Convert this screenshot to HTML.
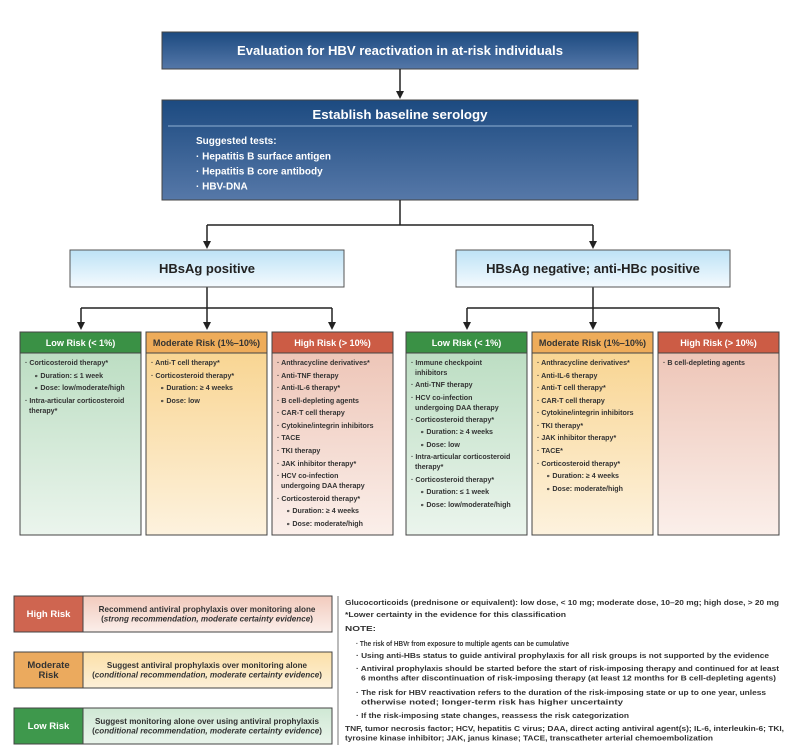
<!DOCTYPE html>
<html><head><meta charset="utf-8"><style>
html,body{margin:0;padding:0;background:#fff;}
svg{display:block;font-family:"Liberation Sans",Arial,sans-serif;}
.li{font-size:7.1px;font-weight:bold;fill:#333;}
.hd{font-size:9.1px;font-weight:bold;}
.nt{font-size:7.2px;font-weight:bold;fill:#333;}
.lg{font-size:8.1px;font-weight:bold;fill:#333;}
</style></head><body>
<svg width="793" height="752" viewBox="0 0 793 752" xmlns="http://www.w3.org/2000/svg">
<defs>
<linearGradient id="blue" x1="0" y1="0" x2="0" y2="1"><stop offset="0" stop-color="#1c4a80"/><stop offset="1" stop-color="#5477a8"/></linearGradient>
<linearGradient id="blue2" x1="0" y1="0" x2="0" y2="1"><stop offset="0" stop-color="#1c4a80"/><stop offset="1" stop-color="#5678a8"/></linearGradient>
<linearGradient id="lb" x1="0" y1="0" x2="0" y2="1"><stop offset="0" stop-color="#bde2f6"/><stop offset="1" stop-color="#f4fafe"/></linearGradient>
<linearGradient id="gG" x1="0" y1="0" x2="0" y2="1"><stop offset="0" stop-color="#b7dbbe"/><stop offset="1" stop-color="#ebf5ed"/></linearGradient>
<linearGradient id="gO" x1="0" y1="0" x2="0" y2="1"><stop offset="0" stop-color="#f8d28a"/><stop offset="1" stop-color="#fdf2de"/></linearGradient>
<linearGradient id="gR" x1="0" y1="0" x2="0" y2="1"><stop offset="0" stop-color="#ecc1b2"/><stop offset="1" stop-color="#fbefea"/></linearGradient>
<linearGradient id="lR" x1="0" y1="0" x2="0" y2="1"><stop offset="0" stop-color="#f2cabd"/><stop offset="1" stop-color="#fbeeea"/></linearGradient>
<linearGradient id="lO" x1="0" y1="0" x2="0" y2="1"><stop offset="0" stop-color="#fbe0a8"/><stop offset="1" stop-color="#fdf0d8"/></linearGradient>
<linearGradient id="lG" x1="0" y1="0" x2="0" y2="1"><stop offset="0" stop-color="#cfe8d4"/><stop offset="1" stop-color="#e9f4eb"/></linearGradient>
</defs>

<!-- top boxes -->
<rect x="162" y="32" width="476" height="37" fill="url(#blue)" stroke="#444" stroke-width="1"/>
<text x="400" y="55" text-anchor="middle" fill="#fff" font-size="13.1" font-weight="bold">Evaluation for HBV reactivation in at-risk individuals</text>
<rect x="162" y="100" width="476" height="100" fill="url(#blue2)" stroke="#444" stroke-width="1"/>
<text x="400" y="119" text-anchor="middle" fill="#fff" font-size="13.3" font-weight="bold">Establish baseline serology</text>
<line x1="168" y1="126" x2="632" y2="126" stroke="#8fb0d4" stroke-width="1.2" opacity="0.8"/>
<g fill="#fff" font-size="10" font-weight="bold">
<text x="196" y="144">Suggested tests:</text>
<text x="196" y="159.5">· Hepatitis B surface antigen</text>
<text x="196" y="174.5">· Hepatitis B core antibody</text>
<text x="196" y="189.5">· HBV-DNA</text>
</g>

<!-- connectors -->
<g stroke="#222" stroke-width="1.5" fill="none">
<line x1="400" y1="69" x2="400" y2="94"/>
<line x1="400" y1="200" x2="400" y2="225"/>
<line x1="207" y1="225" x2="593" y2="225"/>
<line x1="207" y1="225" x2="207" y2="244"/>
<line x1="593" y1="225" x2="593" y2="244"/>
<line x1="207" y1="287" x2="207" y2="308"/>
<line x1="81" y1="308" x2="332" y2="308"/>
<line x1="81" y1="308" x2="81" y2="325"/>
<line x1="207" y1="308" x2="207" y2="325"/>
<line x1="332" y1="308" x2="332" y2="325"/>
<line x1="593" y1="287" x2="593" y2="308"/>
<line x1="467" y1="308" x2="719" y2="308"/>
<line x1="467" y1="308" x2="467" y2="325"/>
<line x1="593" y1="308" x2="593" y2="325"/>
<line x1="719" y1="308" x2="719" y2="325"/>
</g>
<g fill="#222">
<polygon points="396,91 404,91 400,99"/>
<polygon points="203,241 211,241 207,249"/>
<polygon points="589,241 597,241 593,249"/>
<polygon points="77,322 85,322 81,330"/>
<polygon points="203,322 211,322 207,330"/>
<polygon points="328,322 336,322 332,330"/>
<polygon points="463,322 471,322 467,330"/>
<polygon points="589,322 597,322 593,330"/>
<polygon points="715,322 723,322 719,330"/>
</g>

<rect x="70" y="250" width="274" height="37" fill="url(#lb)" stroke="#555" stroke-width="1"/>
<text x="207" y="273" text-anchor="middle" fill="#222" font-size="13" font-weight="bold">HBsAg positive</text>
<rect x="456" y="250" width="274" height="37" fill="url(#lb)" stroke="#555" stroke-width="1"/>
<text x="593" y="273" text-anchor="middle" fill="#222" font-size="13" font-weight="bold">HBsAg negative; anti-HBc positive</text>

<!-- risk boxes -->
<g stroke="#444" stroke-width="1">
<rect x="20" y="332" width="121" height="203" fill="url(#gG)"/>
<rect x="146" y="332" width="121" height="203" fill="url(#gO)"/>
<rect x="272" y="332" width="121" height="203" fill="url(#gR)"/>
<rect x="406" y="332" width="121" height="203" fill="url(#gG)"/>
<rect x="532" y="332" width="121" height="203" fill="url(#gO)"/>
<rect x="658" y="332" width="121" height="203" fill="url(#gR)"/>
<rect x="20" y="332" width="121" height="21" fill="#3a9145"/>
<rect x="146" y="332" width="121" height="21" fill="#eeac5a"/>
<rect x="272" y="332" width="121" height="21" fill="#cc5c45"/>
<rect x="406" y="332" width="121" height="21" fill="#3a9145"/>
<rect x="532" y="332" width="121" height="21" fill="#eeac5a"/>
<rect x="658" y="332" width="121" height="21" fill="#cc5c45"/>
</g>
<g class="hd" text-anchor="middle">
<text x="80.5" y="346" fill="#fff">Low Risk (&lt; 1%)</text>
<text x="206.5" y="346" fill="#333">Moderate Risk (1%–10%)</text>
<text x="332.5" y="346" fill="#fff">High Risk (&gt; 10%)</text>
<text x="466.5" y="346" fill="#fff">Low Risk (&lt; 1%)</text>
<text x="592.5" y="346" fill="#333">Moderate Risk (1%–10%)</text>
<text x="718.5" y="346" fill="#fff">High Risk (&gt; 10%)</text>
</g>

<g class="li">
<text x="25" y="365">· Corticosteroid therapy*</text>
<text x="34" y="378">∘ Duration: ≤ 1 week</text>
<text x="34" y="390">∘ Dose: low/moderate/high</text>
<text x="25" y="403">· Intra-articular corticosteroid</text>
<text x="29" y="413">therapy*</text>
<text x="151" y="365">· Anti-T cell therapy*</text>
<text x="151" y="378">· Corticosteroid therapy*</text>
<text x="160" y="390">∘ Duration: ≥ 4 weeks</text>
<text x="160" y="403">∘ Dose: low</text>
<text x="277" y="365">· Anthracycline derivatives*</text>
<text x="277" y="378">· Anti-TNF therapy</text>
<text x="277" y="390">· Anti-IL-6 therapy*</text>
<text x="277" y="403">· B cell-depleting agents</text>
<text x="277" y="415">· CAR-T cell therapy</text>
<text x="277" y="428">· Cytokine/integrin inhibitors</text>
<text x="277" y="440">· TACE</text>
<text x="277" y="453">· TKI therapy</text>
<text x="277" y="466">· JAK inhibitor therapy*</text>
<text x="277" y="478">· HCV co-infection</text>
<text x="281" y="488">undergoing DAA therapy</text>
<text x="277" y="501">· Corticosteroid therapy*</text>
<text x="286" y="513">∘ Duration: ≥ 4 weeks</text>
<text x="286" y="526">∘ Dose: moderate/high</text>
<text x="411" y="365">· Immune checkpoint</text>
<text x="415" y="375">inhibitors</text>
<text x="411" y="387">· Anti-TNF therapy</text>
<text x="411" y="400">· HCV co-infection</text>
<text x="415" y="410">undergoing DAA therapy</text>
<text x="411" y="422">· Corticosteroid therapy*</text>
<text x="420" y="434">∘ Duration: ≥ 4 weeks</text>
<text x="420" y="447">∘ Dose: low</text>
<text x="411" y="459">· Intra-articular corticosteroid</text>
<text x="415" y="469">therapy*</text>
<text x="411" y="482">· Corticosteroid therapy*</text>
<text x="420" y="494">∘ Duration: ≤ 1 week</text>
<text x="420" y="507">∘ Dose: low/moderate/high</text>
<text x="537" y="365">· Anthracycline derivatives*</text>
<text x="537" y="378">· Anti-IL-6 therapy</text>
<text x="537" y="390">· Anti-T cell therapy*</text>
<text x="537" y="403">· CAR-T cell therapy</text>
<text x="537" y="415">· Cytokine/integrin inhibitors</text>
<text x="537" y="428">· TKI therapy*</text>
<text x="537" y="440">· JAK inhibitor therapy*</text>
<text x="537" y="453">· TACE*</text>
<text x="537" y="466">· Corticosteroid therapy*</text>
<text x="546" y="478">∘ Duration: ≥ 4 weeks</text>
<text x="546" y="491">∘ Dose: moderate/high</text>
<text x="663" y="365">· B cell-depleting agents</text>
</g>

<!-- legend -->
<g stroke="#444" stroke-width="1">
<rect x="14" y="596" width="318" height="36" fill="url(#lR)"/>
<rect x="14" y="596" width="69" height="36" fill="#cf6550"/>
<rect x="14" y="652" width="318" height="36" fill="url(#lO)"/>
<rect x="14" y="652" width="69" height="36" fill="#ebaa5e"/>
<rect x="14" y="708" width="318" height="36" fill="url(#lG)"/>
<rect x="14" y="708" width="69" height="36" fill="#3e984c"/>
</g>
<g font-size="9.5" font-weight="bold" text-anchor="middle">
<text x="48.5" y="617" fill="#fff">High Risk</text>
<text x="48.5" y="668" fill="#333">Moderate</text>
<text x="48.5" y="678" fill="#333">Risk</text>
<text x="48.5" y="729" fill="#fff">Low Risk</text>
</g>
<g class="lg" text-anchor="middle">
<text x="207" y="612">Recommend antiviral prophylaxis over monitoring alone</text>
<text x="207" y="621.5">(<tspan font-style="italic">strong recommendation, moderate certainty evidence</tspan>)</text>
<text x="207" y="668">Suggest antiviral prophylaxis over monitoring alone</text>
<text x="207" y="677.5">(<tspan font-style="italic">conditional recommendation, moderate certainty evidence</tspan>)</text>
<text x="207" y="724">Suggest monitoring alone over using antiviral prophylaxis</text>
<text x="207" y="733.5">(<tspan font-style="italic">conditional recommendation, moderate certainty evidence</tspan>)</text>
</g>

<line x1="338" y1="596" x2="338" y2="745" stroke="#777" stroke-width="1"/>
<g class="nt" lengthAdjust="spacingAndGlyphs">
<text x="345" y="605" textLength="434" lengthAdjust="spacingAndGlyphs">Glucocorticoids (prednisone or equivalent): low dose, &lt; 10 mg; moderate dose, 10–20 mg; high dose, &gt; 20 mg</text>
<text x="345" y="617" textLength="221" lengthAdjust="spacingAndGlyphs">*Lower certainty in the evidence for this classification</text>
<text x="345" y="631" textLength="31" lengthAdjust="spacingAndGlyphs">NOTE:</text>
<text x="356" y="646" textLength="213" lengthAdjust="spacingAndGlyphs">· The risk of HBVr from exposure to multiple agents can be cumulative</text>
<text x="356" y="658" textLength="413" lengthAdjust="spacingAndGlyphs">· Using anti-HBs status to guide antiviral prophylaxis for all risk groups is not supported by the evidence</text>
<text x="356" y="671" textLength="423" lengthAdjust="spacingAndGlyphs">· Antiviral prophylaxis should be started before the start of risk-imposing therapy and continued for at least</text>
<text x="361" y="680.5" textLength="415" lengthAdjust="spacingAndGlyphs">6 months after discontinuation of risk-imposing therapy (at least 12 months for B cell-depleting agents)</text>
<text x="356" y="695" textLength="410" lengthAdjust="spacingAndGlyphs">· The risk for HBV reactivation refers to the duration of the risk-imposing state or up to one year, unless</text>
<text x="361" y="704.5" textLength="262" lengthAdjust="spacingAndGlyphs">otherwise noted; longer-term risk has higher uncertainty</text>
<text x="356" y="718" textLength="273" lengthAdjust="spacingAndGlyphs">·  If the risk-imposing state changes, reassess the risk categorization</text>
<text x="345" y="731" textLength="439" lengthAdjust="spacingAndGlyphs">TNF, tumor necrosis factor; HCV, hepatitis C virus; DAA, direct acting antiviral agent(s); IL-6, interleukin-6; TKI,</text>
<text x="345" y="740.5" textLength="368" lengthAdjust="spacingAndGlyphs">tyrosine kinase inhibitor; JAK, janus kinase; TACE, transcatheter arterial chemoembolization</text>
</g>
</svg>
</body></html>
